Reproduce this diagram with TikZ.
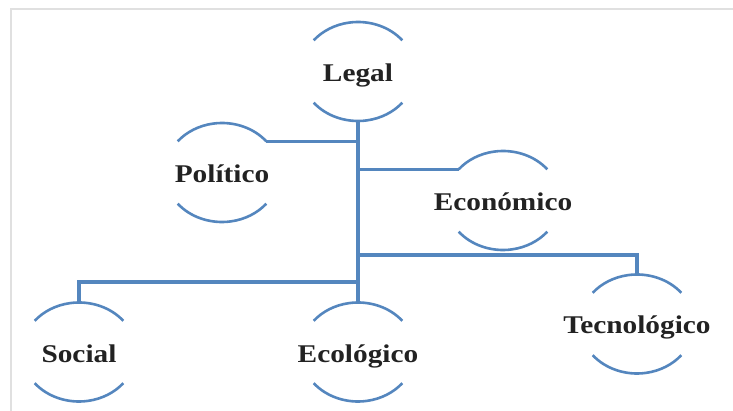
\documentclass[tikz,border=0pt]{standalone}
\usepackage{fontspec}
\setmainfont{Liberation Serif}[FakeStretch=1.15]
\usetikzlibrary{shapes.geometric}
\definecolor{linkblue}{RGB}{84,134,190}
\definecolor{framegray}{RGB}{224,224,224}
\definecolor{textgray}{RGB}{34,34,34}
\newcommand{\halves}[1]{%
	\draw[arcline] ([shift={(39:57 and 49.5)}]#1.center) arc[start angle=39, end angle=141, x radius=57, y radius=49.5];
	\draw[arcline] ([shift={(219:57 and 49.5)}]#1.center) arc[start angle=219, end angle=321, x radius=57, y radius=49.5];}
\begin{document}
\begin{tikzpicture}[x=1pt,y=1pt,
	factor/.style={ellipse,minimum width=114pt,minimum height=99pt,inner sep=0pt,outer sep=0pt,text height=23pt,text depth=3pt,text=textgray,font=\bfseries\fontsize{25.5}{30}\selectfont},
	arcline/.style={linkblue,line width=2.6pt},
	link/.style={linkblue,line width=3.2pt}]
		\useasboundingbox (0,0) rectangle (733,-411);
		\draw[framegray,line width=1.5pt] (11,-411) -- (11,-9) -- (733,-9);
		\node[factor] (legal) at (358,-71.5) {\makebox[0pt]{Legal}};
		\node[factor] (politico) at (222,-172.5) {\makebox[0pt]{Político}};
		\node[factor] (economico) at (503,-200.5) {\makebox[0pt]{Económico}};
		\node[factor] (social) at (79,-352) {\makebox[0pt]{Social}};
		\node[factor] (ecologico) at (358,-352) {\makebox[0pt]{Ecológico}};
		\node[factor] (tecnologico) at (637,-324) {\makebox[0pt]{Tecnológico}};
		\halves{legal}
		\halves{politico}
		\halves{economico}
		\halves{social}
		\halves{ecologico}
		\halves{tecnologico}
		\coordinate (highjoin) at (358,-255);
		\coordinate (lowjoin) at (358,-282);
		\draw[link] (legal.south) -- (ecologico.north);
		\draw[link] (politico.35) -- (legal.south |- politico.35);
		\draw[link] (economico.145) -- (legal.south |- economico.145);
		\draw[link] (tecnologico.north) |- (highjoin);
		\draw[link] (social.north) |- (lowjoin);
\end{tikzpicture}
\end{document}
